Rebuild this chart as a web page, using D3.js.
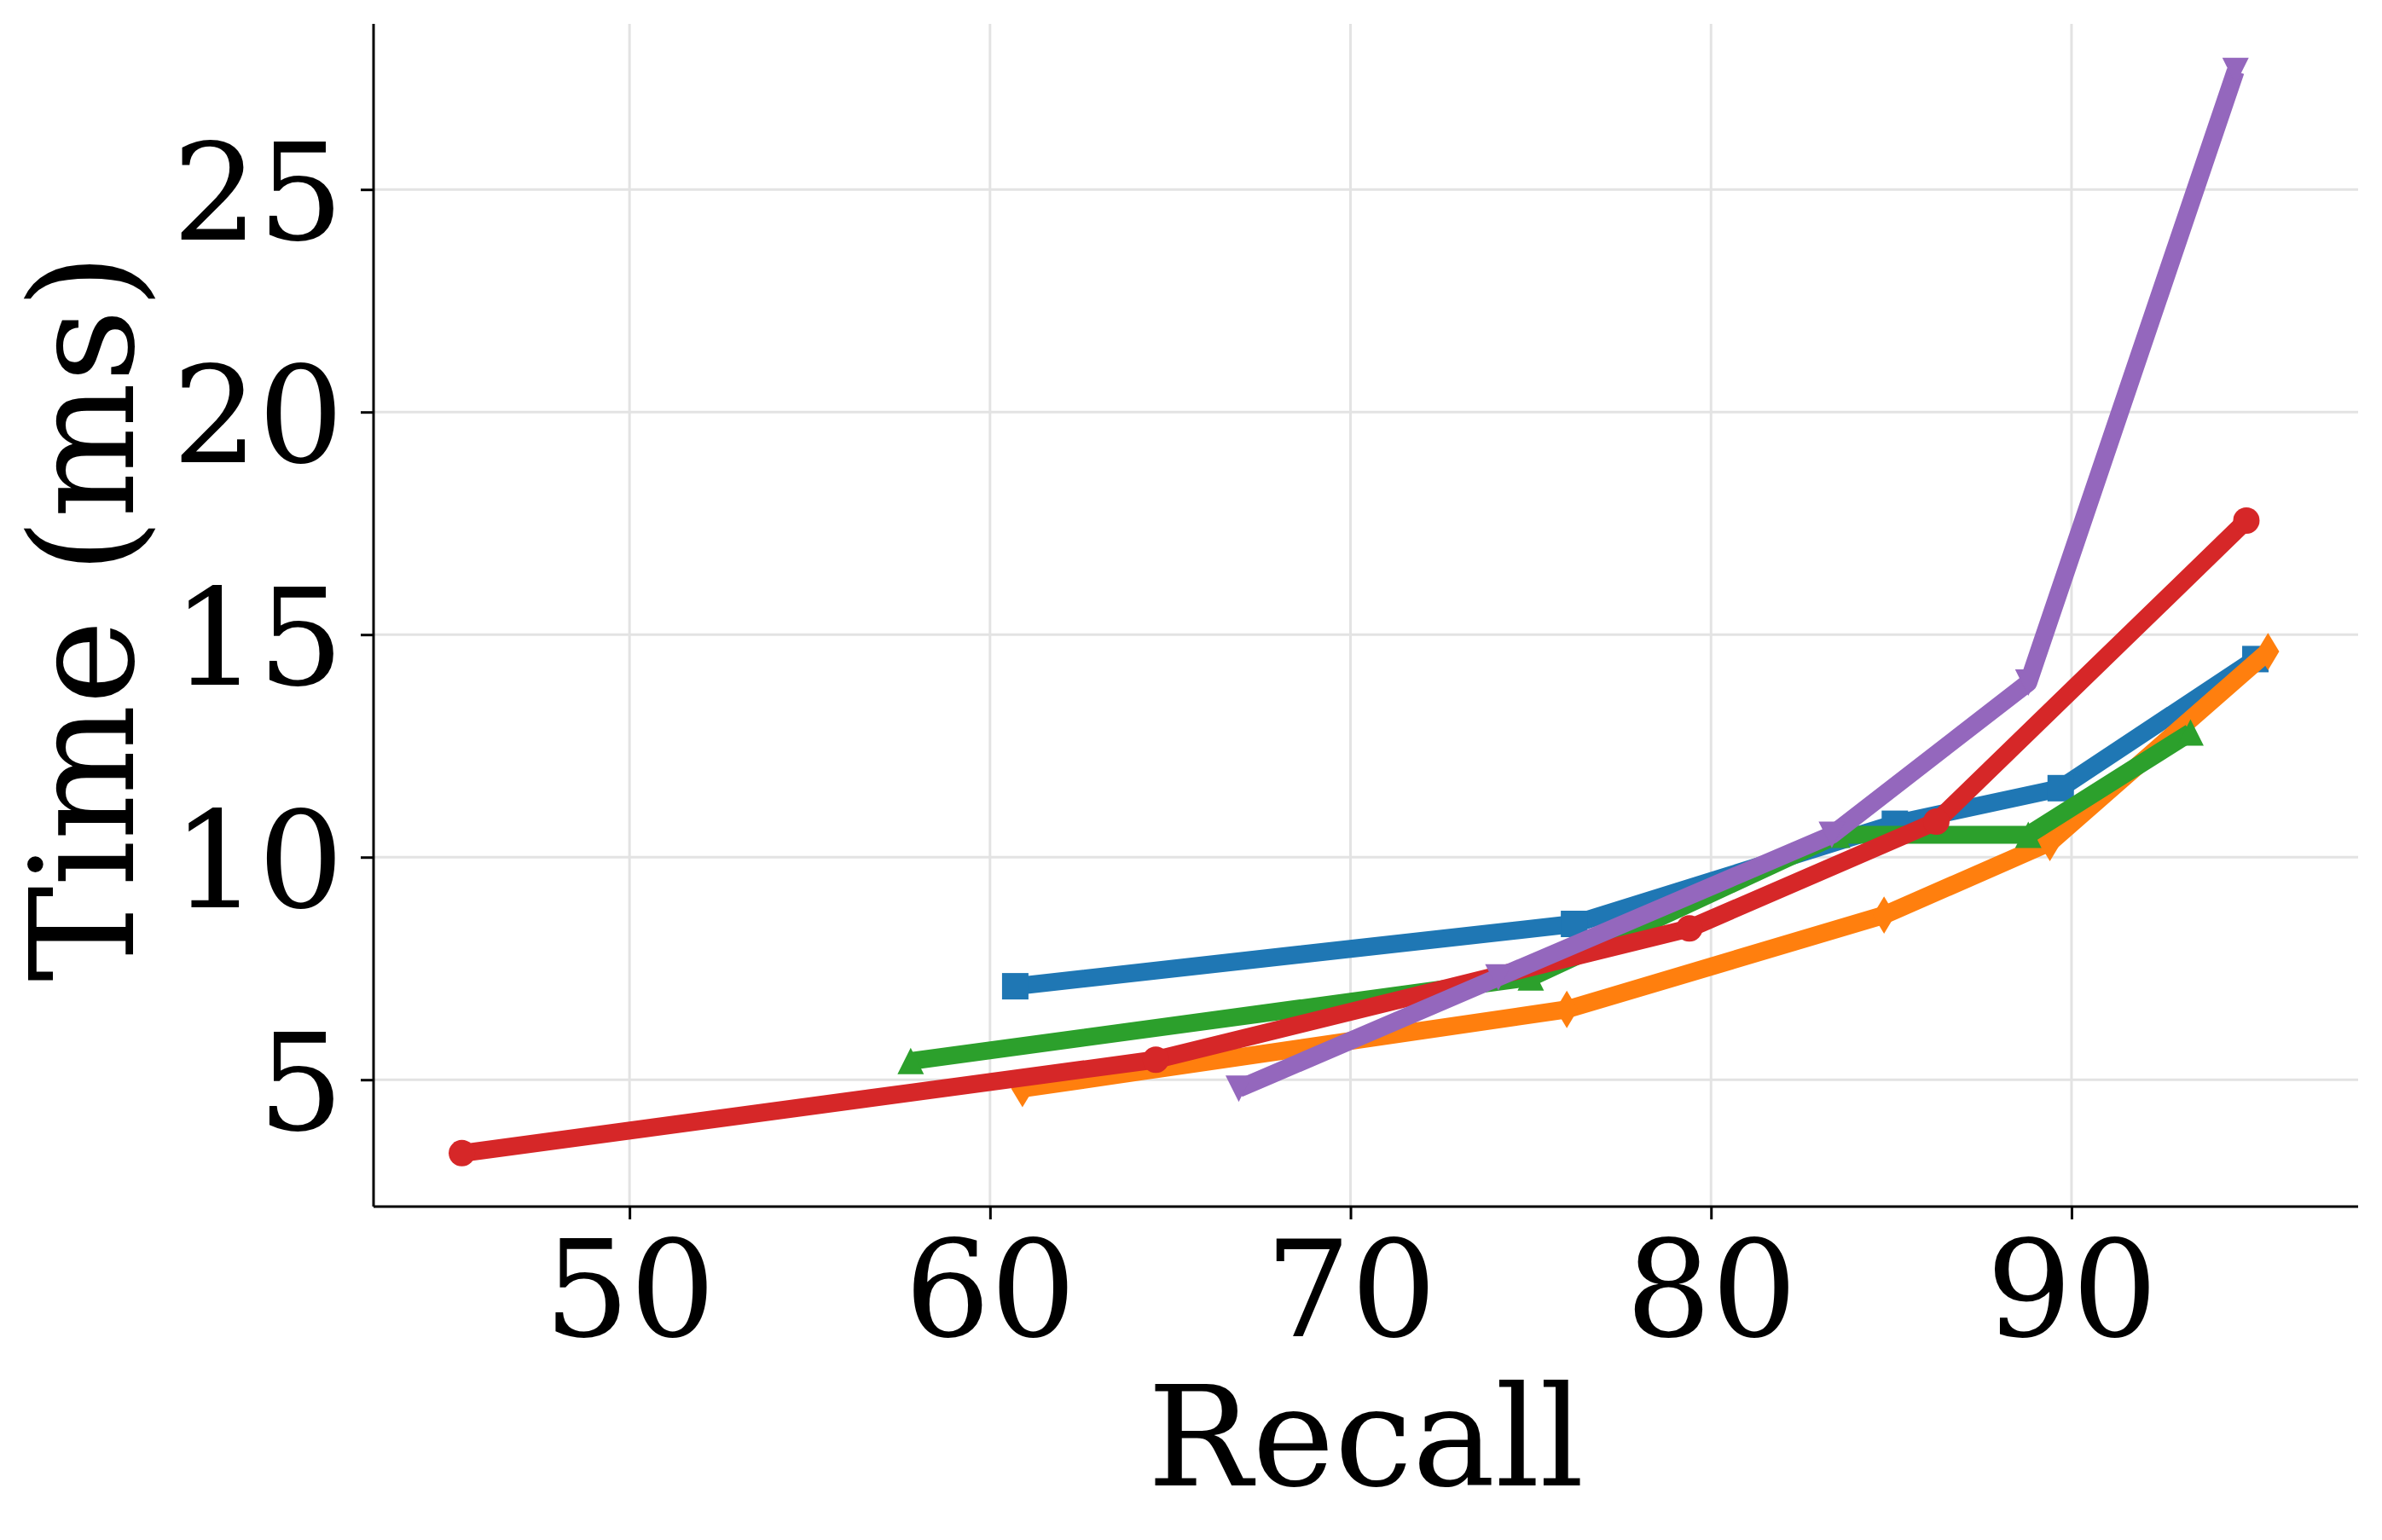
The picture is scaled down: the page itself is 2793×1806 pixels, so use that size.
<!DOCTYPE html>
<html>
<head>
	<script src="https://cdnjs.cloudflare.com/ajax/libs/d3/7.8.5/d3.min.js"></script>
	<style>
		html, body {
			padding: 0;
			margin: 0;
			background: white;
		}
	</style>
</head>
<body>
	<script>
		var width = 2793, height = 1806;
		var margin = {top: 28, right: 28, bottom: 391, left: 438};

		// data
		var blueRecall   = [60.7, 76.2, 85.1, 89.7, 95.1];
		var blueTime     = [7.1, 8.5, 10.75, 11.55, 14.45];
		var orangeRecall = [60.9, 76.0, 84.8, 89.4, 95.45];
		var orangeTime   = [4.8, 6.58, 8.7, 10.33, 14.62];
		var greenRecall  = [57.8, 75.0, 83.5, 88.8, 93.3];
		var greenTime    = [5.42, 7.3, 10.5, 10.5, 12.8];
		var redRecall    = [45.35, 64.6, 79.4, 86.25, 94.85];
		var redTime      = [3.35, 5.45, 8.4, 10.8, 17.56];
		var purpleRecall = [66.9, 74.1, 83.35, 88.8, 94.55];
		var purpleTime   = [4.8, 7.3, 10.5, 13.92, 27.66];

		var xTicks = [50, 60, 70, 80, 90];
		var yTicks = [5, 10, 15, 20, 25];
		var xLabel = 'Recall';
		var yLabel = 'Time (ms)';

		var series = [
			{recall: blueRecall,   time: blueTime,   color: '#1f77b4', marker: 's'},
			{recall: orangeRecall, time: orangeTime, color: '#ff7f0e', marker: 'd'},
			{recall: greenRecall,  time: greenTime,  color: '#2ca02c', marker: '^'},
			{recall: redRecall,    time: redTime,    color: '#d62728', marker: 'o'},
			{recall: purpleRecall, time: purpleTime, color: '#9467bd', marker: 'v'}
		];

		var font = "'DejaVu Serif', serif";
		var fontSize = 158;

		var svg = d3.select('body').append('svg')
			.attr('width', width)
			.attr('height', height)
			.style('background-color', 'white');

		var x = d3.scaleLinear().domain([42.9, 97.95]).range([margin.left, width - margin.right]);
		var y = d3.scaleLinear().domain([2.15, 28.72]).range([height - margin.bottom, margin.top]);

		// grid
		svg.append('g').selectAll('line.gx').data(xTicks).enter().append('line')
			.attr('x1', d => x(d)).attr('x2', d => x(d))
			.attr('y1', margin.top).attr('y2', height - margin.bottom)
			.attr('stroke', '#e3e3e3').attr('stroke-width', 3);
		svg.append('g').selectAll('line.gy').data(yTicks).enter().append('line')
			.attr('y1', d => y(d)).attr('y2', d => y(d))
			.attr('x1', margin.left).attr('x2', width - margin.right)
			.attr('stroke', '#e3e3e3').attr('stroke-width', 3);

		// axes
		var xAxis = svg.append('g')
			.attr('transform', 'translate(0,' + (height - margin.bottom) + ')')
			.call(d3.axisBottom(x).tickValues(xTicks).tickSize(15).tickPadding(18).tickFormat(d3.format('d')));
		var yAxis = svg.append('g')
			.attr('transform', 'translate(' + margin.left + ',0)')
			.call(d3.axisLeft(y).tickValues(yTicks).tickSize(15).tickPadding(20).tickFormat(d3.format('d')));

		[xAxis, yAxis].forEach(function(a) {
			a.select('.domain').attr('stroke', 'black').attr('stroke-width', 3);
			a.selectAll('.tick line').attr('stroke', 'black').attr('stroke-width', 3);
			a.selectAll('.tick text')
				.attr('fill', 'black')
				.style('font-family', font)
				.style('font-size', fontSize + 'px');
		});
		// put the tick labels on a baseline like matplotlib
		xAxis.selectAll('.tick text').attr('dy', null).attr('y', 152);
		yAxis.selectAll('.tick text').attr('dy', null).attr('y', 58);
		// plain spines, no d3 end caps
		xAxis.select('.domain').attr('d', 'M' + margin.left + ',0H' + (width - margin.right));
		yAxis.select('.domain').attr('d', 'M0,' + margin.top + 'V' + (height - margin.bottom));

		// labels
		svg.append('text')
			.attr('x', (margin.left + width - margin.right) / 2)
			.attr('y', 1742)
			.attr('text-anchor', 'middle')
			.style('font-family', font)
			.style('font-size', '163px')
			.text(xLabel);
		svg.append('text')
			.attr('transform', 'translate(156,' + 724 + ') rotate(-90)')
			.attr('text-anchor', 'middle')
			.style('font-family', font)
			.style('font-size', '168px')
			.text(yLabel);

		// markers
		var m = 31;
		function markerPath(type) {
			var h = m / 2;
			if (type == 's') return 'M' + -h + ',' + -h + 'H' + h + 'V' + h + 'H' + -h + 'Z';
			if (type == '^') return 'M0,' + -h + 'L' + h + ',' + h + 'L' + -h + ',' + h + 'Z';
			if (type == 'v') return 'M0,' + h + 'L' + h + ',' + -h + 'L' + -h + ',' + -h + 'Z';
			if (type == 'd') {
				var dh = m * 0.707, dw = dh * 0.6;
				return 'M0,' + -dh + 'L' + dw + ',0L0,' + dh + 'L' + -dw + ',0Z';
			}
			return d3.symbol().type(d3.symbolCircle).size(Math.PI * h * h)();
		}

		var line = d3.line().x(d => x(d[0])).y(d => y(d[1]));

		series.forEach(function(s) {
			var pts = s.recall.map((r, i) => [r, s.time[i]]);
			var g = svg.append('g');
			g.append('path')
				.attr('d', line(pts))
				.attr('fill', 'none')
				.attr('stroke', s.color)
				.attr('stroke-width', 21)
				.attr('stroke-linejoin', 'round')
				.attr('stroke-linecap', 'butt');
			g.selectAll('path.mk').data(pts).enter().append('path')
				.attr('class', 'mk')
				.attr('transform', d => 'translate(' + x(d[0]) + ',' + y(d[1]) + ')')
				.attr('d', markerPath(s.marker))
				.attr('fill', s.color);
		});
	</script>
</body>
</html>
